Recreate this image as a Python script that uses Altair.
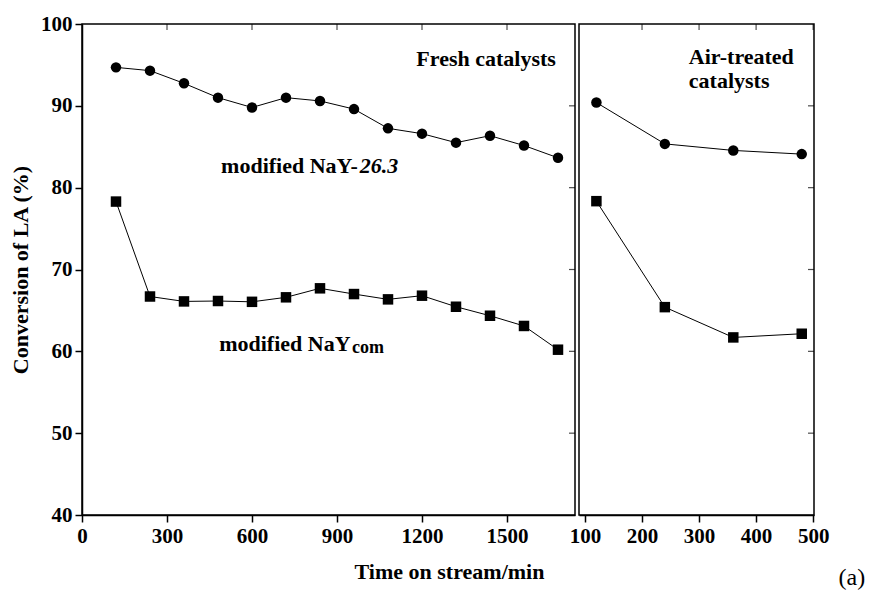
import altair as alt
import pandas as pd

FONT = "Liberation Serif"

# ---- data ----
fresh_time = [120, 240, 360, 480, 600, 720, 840, 960, 1080, 1200, 1320, 1440, 1560, 1680]
fresh_nay263 = [94.7, 94.3, 92.75, 91.0, 89.8, 91.0, 90.6, 89.6, 87.25, 86.6, 85.5, 86.35, 85.15, 83.65]
fresh_naycom = [78.3, 66.7, 66.1, 66.15, 66.05, 66.6, 67.7, 67.0, 66.35, 66.8, 65.45, 64.35, 63.1, 60.2]

air_time = [120, 240, 360, 480]
air_nay263 = [90.4, 85.35, 84.55, 84.1]
air_naycom = [78.35, 65.4, 61.7, 62.15]

series_names = ["modified NaY-26.3", "modified NaYcom"]

left_ticks = [0, 300, 600, 900, 1200, 1500]
right_ticks = [100, 200, 300, 400, 500]
y_ticks = [40, 50, 60, 70, 80, 90, 100]

left_domain = [0, 1740]
right_domain = [89.5, 501.5]
y_domain = [40, 100]

# annotation texts (label, x, y in data units)
left_text_label = ["Fresh catalysts", "modified NaY-", "modified NaY"]
left_text_x = [1180, 491, 484]
left_text_y = [94.9, 81.8, 60.0]
left_italic_label = ["26.3"]
left_italic_x = [980]
left_italic_y = [81.8]
left_sub_label = ["com"]
left_sub_x = [953]
left_sub_y = [59.8]

right_text_label = ["Air-treated", "catalysts"]
right_text_x = [282, 282]
right_text_y = [95.1, 92.2]
panel_label = ["(a)"]
panel_label_x = [568]
panel_label_y = [31.4]

# ---- tables ----
fresh = pd.DataFrame({
    "t": fresh_time * 2,
    "v": fresh_nay263 + fresh_naycom,
    "s": [series_names[0]] * len(fresh_time) + [series_names[1]] * len(fresh_time),
})
air = pd.DataFrame({
    "t": air_time * 2,
    "v": air_nay263 + air_naycom,
    "s": [series_names[0]] * len(air_time) + [series_names[1]] * len(air_time),
})

ys = alt.Scale(domain=y_domain, nice=False, zero=False)
xs_left = alt.Scale(domain=left_domain, nice=False, zero=False)
xs_right = alt.Scale(domain=right_domain, nice=False, zero=False)

shape_scale = alt.Scale(domain=series_names, range=["circle", "square"])

lab = dict(labelFont=FONT, labelFontWeight="bold", labelFontSize=21, labelColor="black",
           labelFlush=False, labelOverlap=False)
line_kw = dict(tickColor="black", tickWidth=1.5, domainColor="black", domainWidth=1.5, grid=False)


def inner_ticks(xs, xvals, xdomain):
    # short inward ticks on the top and right frame edges
    top = pd.DataFrame({"x": xvals[1:], "y": [y_domain[1]] * (len(xvals) - 1)})
    side = pd.DataFrame({"x": [xdomain[1]] * (len(y_ticks) - 2), "y": y_ticks[1:-1]})
    t1 = alt.Chart(top).mark_tick(orient="vertical", size=6, yOffset=3, thickness=1.2,
                                  color="black").encode(
        x=alt.X("x:Q", scale=xs, axis=None), y=alt.Y("y:Q", scale=ys, axis=None))
    t2 = alt.Chart(side).mark_tick(orient="horizontal", size=6, xOffset=-3, thickness=1.2,
                                   color="black").encode(
        x=alt.X("x:Q", scale=xs, axis=None), y=alt.Y("y:Q", scale=ys, axis=None))
    return [t1, t2]


def panel(df, xs, x_axis, y_axis, xvals, xdomain, texts, width):
    line = alt.Chart(df).mark_line(color="black", strokeWidth=1).encode(
        x=alt.X("t:Q", scale=xs, axis=x_axis),
        y=alt.Y("v:Q", scale=ys, axis=y_axis),
        detail="s:N",
    )
    pts = alt.Chart(df).mark_point(filled=True, color="black", opacity=1, size=110).encode(
        x=alt.X("t:Q", scale=xs, axis=None),
        y=alt.Y("v:Q", scale=ys, axis=None),
        shape=alt.Shape("s:N", scale=shape_scale, legend=None),
    )
    layers = [line, pts] + inner_ticks(xs, xvals, xdomain) + texts
    return alt.layer(*layers).resolve_axis(x="independent", y="independent").properties(
        width=width, height=491)


def text_layer(labels, xv, yv, xs, size=22, style="normal", weight="bold", align="left"):
    d = pd.DataFrame({"label": labels, "x": xv, "y": yv})
    return alt.Chart(d).mark_text(font=FONT, fontSize=size, fontWeight=weight, fontStyle=style,
                                  align=align, baseline="alphabetic", color="black").encode(
        x=alt.X("x:Q", scale=xs, axis=None),
        y=alt.Y("y:Q", scale=ys, axis=None),
        text="label:N",
    )


x_axis_left = alt.Axis(values=left_ticks, format="d", title="Time on stream/min", titleX=367,
                       titleFont=FONT, titleFontSize=22, titleFontWeight="bold", titleColor="black",
                       titlePadding=15, tickSize=7, labelPadding=3, **lab, **line_kw)
y_axis_left = alt.Axis(values=y_ticks, title="Conversion of LA (%)", titleFont=FONT,
                       titleFontSize=22, titleFontWeight="bold", titleColor="black",
                       titlePadding=8, tickSize=7, labelPadding=3, **lab, **line_kw)
x_axis_right = alt.Axis(values=right_ticks, format="d", title=None, tickSize=7, labelPadding=3,
                        **lab, **line_kw)

left_texts = [
    text_layer(left_text_label, left_text_x, left_text_y, xs_left),
    text_layer(left_italic_label, left_italic_x, left_italic_y, xs_left, style="italic"),
    text_layer(left_sub_label, left_sub_x, left_sub_y, xs_left, size=18),
]
right_texts = [
    text_layer(right_text_label, right_text_x, right_text_y, xs_right),
    text_layer(panel_label, panel_label_x, panel_label_y, xs_right, size=24, weight="normal",
               align="center"),
]

left = panel(fresh, xs_left, x_axis_left, y_axis_left, left_ticks, left_domain, left_texts, 493)
right = panel(air, xs_right, x_axis_right, None, right_ticks, right_domain, right_texts, 235)

chart = alt.hconcat(left, right, spacing=4, bounds="flush").properties(
    padding={"left": 8, "top": 12, "right": 0, "bottom": 0},
    background="white",
).configure_view(stroke="black", strokeWidth=1.5)

chart.save("out.html", embed_options={"renderer": "svg", "actions": False})
